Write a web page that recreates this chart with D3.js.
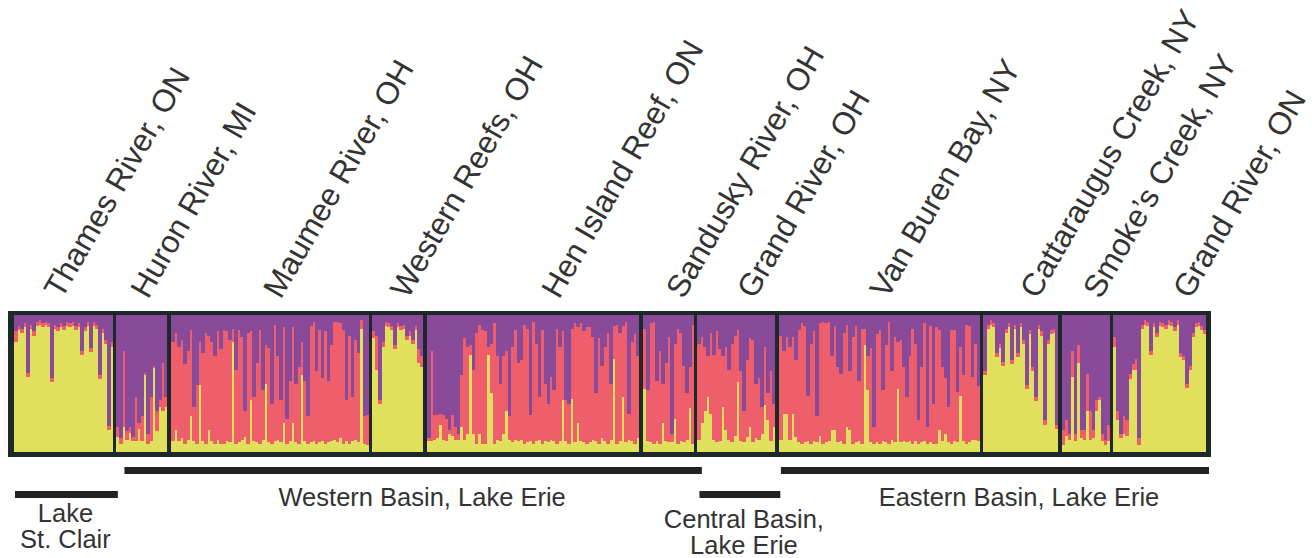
<!DOCTYPE html>
<html><head><meta charset="utf-8">
<script src="https://cdn.jsdelivr.net/npm/d3@7"></script>
<style>body{margin:0;background:#fff}svg{display:block}</style>
</head><body>
<svg id="chart" width="1312" height="558"></svg>
<script>
// ---------------- DATA ----------------
// Each individual: [purple %, yellow %]; red = remainder
const populations = ["Thames River, ON","Huron River, MI","Maumee River, OH","Western Reefs, OH","Hen Island Reef, ON","Sandusky River, OH","Grand River, OH","Van Buren Bay, NY","Cattaraugus Creek, NY","Smoke\u2019s Creek, NY","Grand River, ON"];
const clusters = ["yellow","red","purple"];

const thames = [[12,80],[8,89],[10,87],[6,91],[42,55],[7,90],[12,85],[5,92],[4,93],[6,91],[5,93],[6,91],[46,51],[7,90],[9,88],[6,91],[8,89],[5,92],[6,91],[5,92],[8,89],[6,91],[26,71],[9,88],[5,92],[24,73],[5,92],[7,90],[44,53],[10,87],[18,79],[81,16],[20,77]];
const huron = [[82,11],[90,6],[26,18],[85,9],[82,14],[89,8],[60,8],[79,17],[74,8],[42,56],[87,6],[60,8],[37,61],[70,15],[62,33],[35,30],[60,33]];
const maumee = [[20,8],[13,16],[23,8],[18,10],[36,6],[26,9],[11,26],[67,8],[51,6],[20,49],[28,8],[13,6],[15,16],[20,8],[30,6],[12,9],[25,6],
  [11,6],[12,8],[18,7],[10,80],[40,6],[11,7],[16,9],[70,11],[13,6],[12,38],[60,8],[35,7],[11,6],[55,9],[22,50],[24,7],[65,6],[7,8],[30,9],[62,7],
  [9,21],[76,6],[48,8],[9,21],[50,7],[38,6],[20,56],[48,8],[74,6],[8,7],[5,8],[41,6],[11,7],[46,8],[12,6],[48,7],[22,8],[5,9],[5,7],[6,10],
  [11,6],[62,8],[15,6],[60,8],[18,9],[28,7],[4,90],[74,6],[73,5]];
const westernReefs = [[12,83],[15,60],[62,35],[20,77],[5,92],[6,91],[8,89],[22,75],[6,91],[8,89],[7,90],[15,82],[12,85],[18,79],[8,89],[25,65],[30,62]];
const henIsland = [[90,8],[26,8],[73,9],[73,10],[72,20],[73,9],[76,8],[84,13],[73,12],[82,9],[87,9],[44,18],[17,9],[23,13],[22,71],[40,13],[13,6],[7,13],[11,6],[12,6],
  [23,71],[21,43],[6,6],[30,9],[50,8],[30,13],[26,30],[74,9],[23,7],[11,9],[35,8],[33,9],[7,6],[10,7],[73,8],[5,6],[21,8],[60,9],[11,6],[50,8],
  [65,7],[45,9],[55,8],[10,6],[23,8],[12,38],[62,8],[65,6],[10,39],[6,7],[9,21],[6,8],[12,7],[9,6],[9,7],[16,9],[57,8],[17,6],[37,10],[23,8],
  [13,6],[50,9],[8,68],[7,6],[13,8],[8,40],[5,7],[72,9],[20,8],[14,6],[30,10]];
const sandusky = [[10,46],[55,8],[6,7],[5,6],[48,8],[26,6],[50,21],[35,8],[16,7],[87,7],[21,24],[10,6],[13,8],[37,7],[57,9],[38,32],[7,6]];
const grandOH = [[21,9],[16,21],[23,30],[30,40],[13,28],[29,9],[12,7],[25,8],[30,33],[23,16],[40,9],[21,7],[15,12],[11,51],[41,8],[70,7],[33,11],[17,18],[18,7],[50,10],[46,9],[67,13],[23,34],[57,23],[41,8],[65,18]];
const vanBuren = [[15,9],[26,28],[16,28],[23,9],[16,28],[33,11],[11,7],[6,6],[8,7],[59,8],[21,6],[12,8],[74,7],[6,12],[5,6],[6,7],[5,8],[30,16],[8,16],[38,7],[43,8],[13,6],
  [7,18],[41,16],[16,6],[8,7],[48,8],[10,6],[10,78],[30,45],[24,7],[82,6],[14,7],[11,6],[55,8],[22,7],[5,6],[41,9],[16,7],[20,46],[18,7],[38,8],[60,7],[30,8],[10,6],
  [21,8],[77,6],[38,7],[6,8],[82,6],[8,7],[65,6],[9,6],[11,16],[38,8],[46,13],[67,7],[11,6],[11,8],[56,7],[23,41],[44,8],[7,6],[8,7],[45,9],[21,9],[52,8]];
const cattaraugus = [[41,56],[7,90],[4,93],[6,91],[28,69],[21,76],[34,63],[10,87],[6,91],[33,64],[7,90],[28,69],[6,91],[18,79],[51,46],[11,86],[38,59],[60,37],[7,90],[12,85],[77,20],[18,79],[11,86],[10,87],[80,17]];
const smokes = [[84,5],[77,12],[87,9],[26,55],[87,8],[22,65],[84,10],[84,9],[43,30],[70,9],[84,10],[62,30],[60,38],[87,8],[91,5],[80,8]];
const grandON = [[16,77],[70,23],[87,10],[74,13],[77,12],[43,53],[36,60],[32,60],[90,5],[7,90],[4,93],[5,92],[26,71],[6,91],[13,84],[5,92],[6,91],[7,90],[4,93],[5,92],[9,88],[4,93],[28,69],[30,67],[50,47],[37,60],[13,84],[6,91],[5,92],[8,89],[11,86]];
const popValues = [thames,huron,maumee,westernReefs,henIsland,sandusky,grandOH,vanBuren,cattaraugus,smokes,grandON];

const regionNames = [["Lake","St. Clair"],["Western Basin, Lake Erie"],["Central Basin,","Lake Erie"],["Eastern Basin, Lake Erie"]];
const regionPops = [[0,0],[1,5],[6,6],[7,10]];

// ---------------- LAYOUT ----------------
const colors = {yellow:"#e1e05d", red:"#ee5f6b", purple:"#894b99"};
const frameColor = "#1d2928";
const textColor = "#333333";
const inner = {x0:14, x1:1206, y0:315, y1:452};
const gapUnits = 1.2;
const labelDx = [-2,6,11,10,26,15,18,8,17,15,31];
const labelY = 300;
const labelAngle = -60;
const regionBarY = [491,467,491,467];
const regionBarDx = [[1,5],[8,8],[2,5],[2,3]];
const regionTextDx = [-1,9,4,24];
const regionTextY = [522,506,528,506];
const lineStep = 26;

// ---------------- BUILD ----------------
const svg = d3.select("#chart");
let rows = [], cursor = 0, popRange = [];
popValues.forEach((arr,pi)=>{
  if(pi>0) cursor += gapUnits;
  const start = cursor;
  arr.forEach(([p,yv])=>{
    rows.push({pop:pi, pos:cursor, yellow:yv/100, red:Math.max(0,100-p-yv)/100, purple:p/100});
    cursor += 1;
  });
  popRange.push([start,cursor]);
});
const total = cursor;
const x = d3.scaleLinear().domain([0,total]).range([inner.x0, inner.x1]);
const y = d3.scaleLinear().domain([0,1]).range([inner.y1, inner.y0]);
const bw = x(1)-x(0);

// frame
svg.append("rect").attr("x",8).attr("y",311).attr("width",1203).attr("height",146).attr("fill",frameColor);

const stack = d3.stack().keys(clusters)(rows);
svg.append("g").attr("shape-rendering","crispEdges").selectAll("g").data(stack).join("g")
  .attr("fill",d=>colors[d.key])
  .selectAll("rect").data(d=>d).join("rect")
  .attr("x",d=>x(d.data.pos))
  .attr("width",d=>{
    const r = popRange[d.data.pop];
    return (d.data.pos+1 < r[1]-0.01 ? bw+0.8 : bw);
  })
  .attr("y",d=>y(d[1]))
  .attr("height",d=>Math.max(0,y(d[0])-y(d[1])));

// population labels
svg.append("g").selectAll("text").data(populations).join("text")
  .attr("transform",(d,i)=>{
    const cx = (x(popRange[i][0])+x(popRange[i][1]))/2 + labelDx[i];
    return `translate(${cx},${labelY}) rotate(${labelAngle})`;
  })
  .attr("font-family","Liberation Sans, Arial, sans-serif")
  .attr("font-size",31.5)
  .attr("fill",textColor)
  .text(d=>d);

// region bars and labels
regionNames.forEach((lines,ri)=>{
  const [a,b] = regionPops[ri];
  const xs = x(popRange[a][0]) + regionBarDx[ri][0];
  const xe = x(popRange[b][1]) + regionBarDx[ri][1];
  svg.append("rect").attr("x",xs).attr("y",regionBarY[ri]).attr("width",xe-xs).attr("height",7).attr("fill","#222");
  const cx = (xs+xe)/2 + regionTextDx[ri];
  const t = svg.append("text").attr("x",cx).attr("y",regionTextY[ri])
      .attr("text-anchor","middle")
      .attr("font-family","Liberation Sans, Arial, sans-serif")
      .attr("font-size",25.5).attr("fill",textColor);
  lines.forEach((s,li)=>{
    t.append("tspan").attr("x",cx).attr("dy",li===0?0:lineStep).text(s);
  });
});
</script>
</body></html>
